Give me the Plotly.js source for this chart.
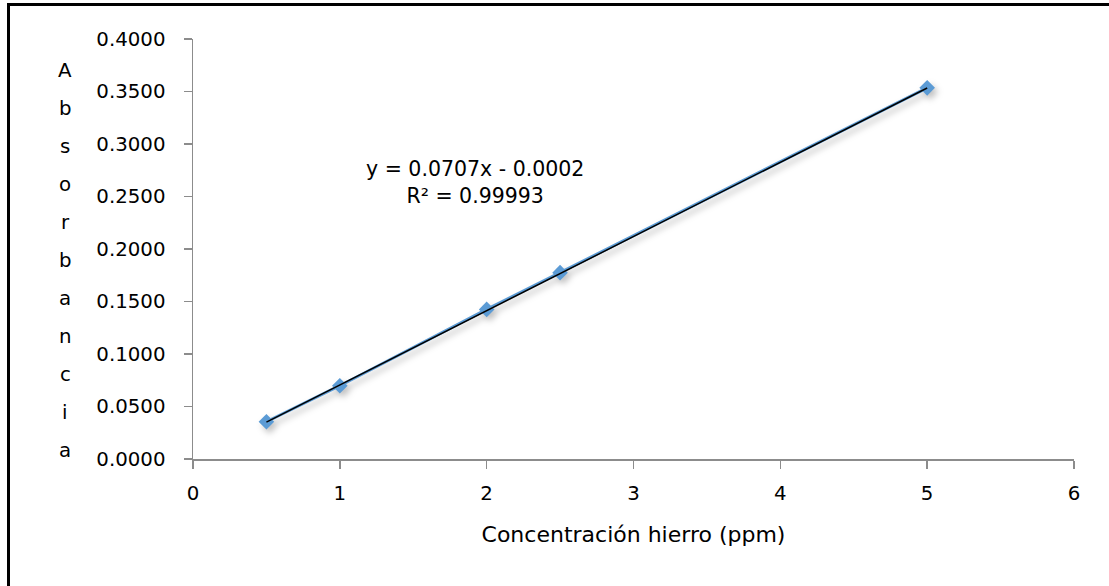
<!DOCTYPE html>
<html>
<head>
<meta charset="utf-8">
<script src="https://cdn.plot.ly/plotly-3.0.1.min.js"></script>
<style>
  html, body { margin: 0; padding: 0; background: #fff; }
  #wrap { position: relative; width: 1109px; height: 586px; }
  #chart { width: 1109px; height: 586px; }
  #frame { position: absolute; left: 7px; top: 3px; right: -10px; bottom: -10px;
           border-top: 3px solid #000; border-left: 3px solid #000; pointer-events: none; }
</style>
</head>
<body>
<div id="wrap">
  <div id="chart"></div>
  <div id="frame"></div>
</div>
<script>
// Calibration standards: iron concentration (ppm) vs absorbance
const concentration = [0.5, 1, 2, 2.5, 5];
const absorbance = [0.0355, 0.0698, 0.1425, 0.1775, 0.3535];

// Linear fit reported on the chart
const slope = 0.0707;
const intercept = -0.0002;
const rSquared = '0.99993';

const yTickValues = [0, 0.05, 0.10, 0.15, 0.20, 0.25, 0.30, 0.35, 0.40];
const xTickValues = [0, 1, 2, 3, 4, 5, 6];
const yTitle = 'Absorbancia';
const xTitle = 'Concentración hierro (ppm)';

const FONT = '"DejaVu Sans", sans-serif';
const FS = 19.8;
const AXIS_GRAY = '#8c8c8c';

const xFit = [Math.min(...concentration), Math.max(...concentration)];
const yFit = xFit.map(x => slope * x + intercept);

const data = [
  {
    x: concentration, y: absorbance, type: 'scatter', mode: 'lines+markers',
    line: { color: '#5b9bd5', width: 3 },
    marker: { symbol: 'diamond', size: 12, color: '#5b9bd5' },
    hoverinfo: 'x+y'
  },
  {
    x: xFit, y: yFit, type: 'scatter', mode: 'lines',
    line: { color: '#000', width: 1.5 },
    hoverinfo: 'skip'
  }
];

// Stacked letters of the vertical axis title
const letters = yTitle.split('');
const topFrac = 0.926, botFrac = 0.021;
const annotations = letters.map((ch, i) => ({
  xref: 'paper', yref: 'paper',
  x: -0.145, y: topFrac - i * (topFrac - botFrac) / (letters.length - 1),
  text: ch, showarrow: false, xanchor: 'center', yanchor: 'middle',
  font: { family: FONT, size: FS, color: '#000' }
}));

const sign = intercept < 0 ? ' - ' : ' + ';
annotations.push({
  xref: 'x', yref: 'y', x: 1.92, y: 0.2635,
  text: 'y = ' + slope.toFixed(4) + 'x' + sign + Math.abs(intercept).toFixed(4) +
        '<br>R² = ' + rSquared,
  showarrow: false, align: 'center', xanchor: 'center', yanchor: 'middle',
  font: { family: FONT, size: 20.5, color: '#000' }
});

const layout = {
  width: 1109, height: 586,
  margin: { l: 193, r: 35, t: 39, b: 127 },
  paper_bgcolor: '#fff', plot_bgcolor: '#fff',
  showlegend: false,
  font: { family: FONT, size: FS, color: '#000' },
  xaxis: {
    range: [0, 6], tickvals: xTickValues, ticktext: xTickValues.map(String),
    showgrid: false, zeroline: false, showline: true, linecolor: AXIS_GRAY, linewidth: 1.5,
    ticks: 'outside', ticklen: 8, tickcolor: AXIS_GRAY, tickwidth: 1.5,
    ticklabelstandoff: 8,
    tickfont: { family: FONT, size: FS, color: '#000' },
    title: { text: xTitle, font: { family: FONT, size: 22, color: '#000' }, standoff: 22 }
  },
  yaxis: {
    range: [0, 0.4], tickvals: yTickValues, ticktext: yTickValues.map(v => v.toFixed(4)),
    showgrid: false, zeroline: false, showline: true, linecolor: AXIS_GRAY, linewidth: 1.5,
    ticks: 'outside', ticklen: 8, tickcolor: AXIS_GRAY, tickwidth: 1.5,
    ticklabelstandoff: 14,
    tickfont: { family: FONT, size: FS, color: '#000' }
  },
  annotations: annotations
};

Plotly.newPlot('chart', data, layout, { displayModeBar: false, staticPlot: true }).then(() => {
  // soft drop shadow under the data series
  const tr = document.querySelectorAll('.scatterlayer .trace')[0];
  if (tr) tr.style.filter = 'drop-shadow(3px 4px 3px rgba(0,0,0,0.25))';
});
</script>
</body>
</html>
